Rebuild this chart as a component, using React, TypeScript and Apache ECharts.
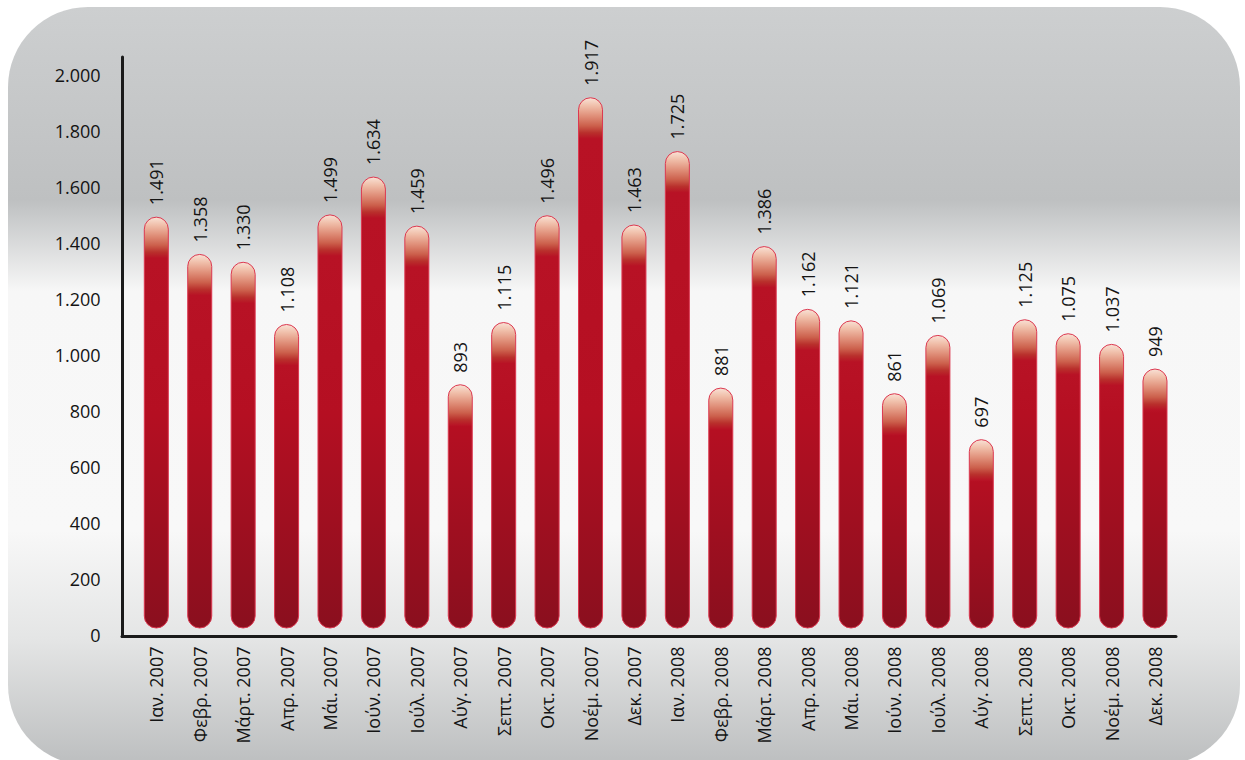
import React, { useEffect, useRef } from "react";
import * as echarts from "echarts";

const months: string[] = [
  "Ιαν. 2007", "Φεβρ. 2007", "Μάρτ. 2007", "Απρ. 2007", "Μάι. 2007", "Ιούν. 2007",
  "Ιούλ. 2007", "Αύγ. 2007", "Σεπτ. 2007", "Οκτ. 2007", "Νοέμ. 2007", "Δεκ. 2007",
  "Ιαν. 2008", "Φεβρ. 2008", "Μάρτ. 2008", "Απρ. 2008", "Μάι. 2008", "Ιούν. 2008",
  "Ιούλ. 2008", "Αύγ. 2008", "Σεπτ. 2008", "Οκτ. 2008", "Νοέμ. 2008", "Δεκ. 2008",
];

const values: number[] = [
  1491, 1358, 1330, 1108, 1499, 1634, 1459, 893, 1115, 1496, 1917, 1463,
  1725, 881, 1386, 1162, 1121, 861, 1069, 697, 1125, 1075, 1037, 949,
];

const yMin = 0;
const yMax = 2000;
const yStep = 200;

const FONT = "'Open Sans', 'Noto Sans', sans-serif";

function fmt(v: number): string {
  const s = String(Math.round(v));
  return s.replace(/\B(?=(\d{3})+(?!\d))/g, ".");
}

export default function App() {
  const ref = useRef<HTMLDivElement>(null);

  useEffect(() => {
    if (!ref.current) return;
    const chart = echarts.init(ref.current, undefined, { renderer: "svg" });

    const renderItem = (params: any, api: any) => {
      const i = api.value(0);
      const v = api.value(1);
      const top = api.coord([i, v]);
      const base = api.coord([i, 0]);
      const band = api.size([1, 0])[0];
      const w = band * 0.553;
      const x = top[0] - w / 2;
      const yBottom = base[1] - 7;
      const h = Math.max(yBottom - top[1], w);
      const f = (p: number) => Math.min(Math.max(p / h, 0), 1);
      const bodyStart = Math.max(42, h - 215);
      const stops = [
        { offset: 0, color: "#f9e2d6" },
        { offset: f(8), color: "#f0bfaa" },
        { offset: f(18), color: "#e0907a" },
        { offset: f(28), color: "#cc604c" },
        { offset: f(35), color: "#b9302c" },
        { offset: f(41), color: "#b81225" },
        { offset: f(bodyStart), color: "#b50f22" },
        { offset: 1, color: "#8a0f1e" },
      ];
      return {
        type: "group",
        children: [
          {
            type: "rect",
            shape: { x, y: top[1], width: w, height: h, r: w / 2 },
            style: {
              fill: { type: "linear", x: 0, y: 0, x2: 0, y2: 1, colorStops: stops },
              stroke: "#dc3850",
              lineWidth: 1,
            },
          },
          {
            type: "text",
            x: top[0],
            y: top[1] - 12,
            rotation: Math.PI / 2,
            style: {
              text: fmt(v),
              align: "left",
              verticalAlign: "middle",
              fontSize: 18,
              fontFamily: FONT,
              fill: "#141414",
            },
          },
        ],
      };
    };

    chart.setOption({
      animation: false,
      backgroundColor: "transparent",
      graphic: [
        {
          type: "rect",
          left: 8,
          top: 7,
          z: -10,
          silent: true,
          shape: { width: 1232, height: 758, r: 80 },
          style: {
            fill: {
              type: "linear",
              x: 0,
              y: 0,
              x2: 0,
              y2: 1,
              colorStops: [
                { offset: 0, color: "#cdcfd0" },
                { offset: 0.255, color: "#bec0c1" },
                { offset: 0.272, color: "#c6c8c9" },
                { offset: 0.375, color: "#f7f7f7" },
                { offset: 0.69, color: "#f8f8f8" },
                { offset: 0.835, color: "#e4e5e5" },
                { offset: 1, color: "#bcbebf" },
              ],
            },
          },
        },
      ],
      grid: [
        { left: 134.6, right: 68.3, top: 74.5, bottom: 125 },
        { left: 122, right: 69, top: 57, bottom: 123.5 },
      ],
      xAxis: [
        {
          type: "category",
          gridIndex: 0,
          data: months,
          axisLine: { show: false },
          axisTick: { show: false },
          splitLine: { show: false },
          axisLabel: {
            rotate: 90,
            margin: 11.5,
            fontSize: 18,
            fontFamily: FONT,
            color: "#141414",
            interval: 0,
          },
        },
        {
          type: "value",
          gridIndex: 1,
          min: 0,
          max: 1,
          axisLine: { show: true, onZero: false, lineStyle: { color: "#1a1a1a", width: 3 } },
          axisTick: { show: false },
          axisLabel: { show: false },
          splitLine: { show: false },
        },
      ],
      yAxis: [
        {
          type: "value",
          gridIndex: 0,
          min: yMin,
          max: yMax,
          interval: yStep,
          axisLine: { show: false },
          axisTick: { show: false },
          splitLine: { show: false },
          axisLabel: {
            margin: 34,
            fontSize: 18,
            fontFamily: FONT,
            color: "#141414",
            formatter: (v: number) => fmt(v),
          },
        },
        {
          type: "value",
          gridIndex: 1,
          min: 0,
          max: 1,
          axisLine: { show: true, onZero: false, lineStyle: { color: "#1a1a1a", width: 3 } },
          axisTick: { show: false },
          axisLabel: { show: false },
          splitLine: { show: false },
        },
      ],
      series: [
        {
          type: "custom",
          xAxisIndex: 0,
          yAxisIndex: 0,
          renderItem,
          clip: false,
          encode: { x: 0, y: 1 },
          data: values.map((v, i) => [i, v]),
        },
      ],
    });

    return () => {
      chart.dispose();
    };
  }, []);

  return (
    <div
      ref={ref}
      style={{ position: "fixed", left: 0, top: 0, width: 1245, height: 760, background: "#ffffff" }}
    />
  );
}
